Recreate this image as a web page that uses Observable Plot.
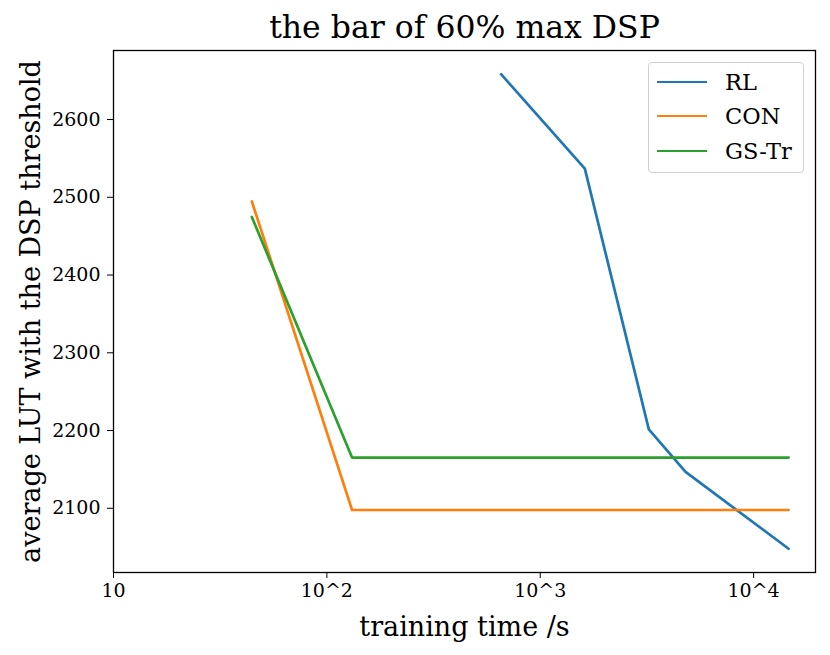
<!DOCTYPE html>
<html>
<head>
<meta charset="utf-8">
<script src="https://cdn.jsdelivr.net/npm/d3@7"></script>
<script src="https://cdn.jsdelivr.net/npm/@observablehq/plot@0.6"></script>
<style>
  body { margin: 0; background: white; }
  #wrap { position: relative; width: 830px; height: 655px; }
  #legend { position: absolute; left: 648px; top: 62px; width: 154px; height: 109px;
    border: 1px solid #d0d0d0; border-radius: 4px; background: rgba(255,255,255,0.8);
    font-family: "DejaVu Serif"; font-size: 22.5px; color: black; }
  .row { position: absolute; left: 8px; height: 30px; display: flex; align-items: center; }
  .sw { width: 50px; height: 0; border-top: 2.7px solid; margin-right: 18px; }
</style>
</head>
<body>
<div id="wrap"></div>
<script>
const seriesNames = ["RL", "CON", "GS-Tr"];
const seriesColors = ["#1f77b4", "#ff7f0e", "#2ca02c"];

const rlTime = [655, 1618, 3228, 4797, 14590];
const rlLUT = [2658.3, 2536.8, 2201.4, 2146.8, 2047.9];
const conTime = [44.5, 131.2, 14590];
const conLUT = [2494.6, 2097.8, 2097.8];
const gsTime = [44.5, 131.2, 14590];
const gsLUT = [2474.7, 2165.2, 2165.2];

const xTicks = [10, 100, 1000, 10000];
const xTickLabels = ["10", "10^2", "10^3", "10^4"];
const yTicks = [2100, 2200, 2300, 2400, 2500, 2600];

const title = "the bar of 60% max DSP";
const xLabel = "training time /s";
const yLabel = "average LUT with the DSP threshold";

const toRows = (name, xs, ys) => xs.map((x, i) => ({series: name, x, y: ys[i]}));
const data = [
  ...toRows("RL", rlTime, rlLUT),
  ...toRows("CON", conTime, conLUT),
  ...toRows("GS-Tr", gsTime, gsLUT)
];

const chart = Plot.plot({
  width: 830,
  height: 655,
  marginLeft: 113,
  marginRight: 15,
  marginTop: 50,
  marginBottom: 83,
  style: {fontFamily: "DejaVu Serif", fontSize: "19px", color: "black", background: "white"},
  x: {type: "log", domain: [10, 19500]},
  y: {domain: [2017.4, 2688.8]},
  color: {domain: seriesNames, range: seriesColors},
  marks: [
    Plot.line(data, {x: "x", y: "y", z: "series", stroke: "series", strokeWidth: 2.7}),
    Plot.axisX({ticks: xTicks, tickFormat: d => xTickLabels[xTicks.indexOf(d)], tickSize: 6, tickPadding: 5, fontSize: 19, label: null}),
    Plot.axisY({ticks: yTicks, tickFormat: d3.format("d"), tickSize: 6, tickPadding: 7, fontSize: 19, label: null}),
    Plot.frame({stroke: "black", strokeWidth: 1.3}),
    Plot.text([title], {text: d => d, frameAnchor: "top", lineAnchor: "middle", dy: -23, fontSize: 31.5, fill: "black"}),
    Plot.text([xLabel], {text: d => d, frameAnchor: "bottom", lineAnchor: "middle", dy: 55, fontSize: 27, fill: "black"}),
    Plot.text([yLabel], {text: d => d, frameAnchor: "left", textAnchor: "middle", lineAnchor: "middle", dx: -82, rotate: -90, fontSize: 27, fill: "black"})
  ]
});
const wrap = document.getElementById("wrap");
wrap.appendChild(chart);

const legend = document.createElement("div");
legend.id = "legend";
seriesNames.forEach((n, i) => {
  const row = document.createElement("div");
  row.className = "row";
  row.style.top = (4 + i * 34.3) + "px";
  const sw = document.createElement("div");
  sw.className = "sw";
  sw.style.borderTopColor = seriesColors[i];
  const t = document.createElement("span");
  t.textContent = n;
  row.appendChild(sw); row.appendChild(t);
  legend.appendChild(row);
});
wrap.appendChild(legend);
</script>
</body>
</html>
